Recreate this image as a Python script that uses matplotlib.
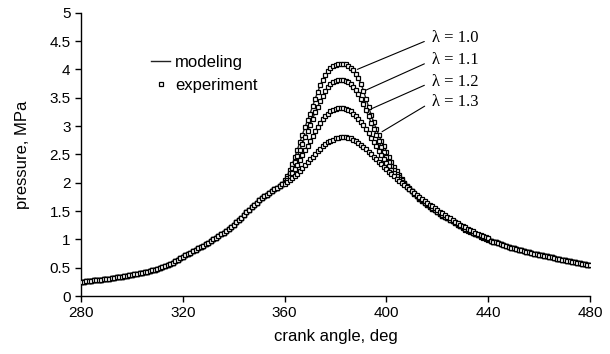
import matplotlib
matplotlib.use("Agg")
import matplotlib.pyplot as plt
from matplotlib.ticker import FuncFormatter

# crank angle grid, deg (experiment sampled every 1 deg)
angle_start = list(range(280, 360))   # same for every lambda
angle_peak = list(range(360, 441))    # curves split here
angle_tail = list(range(441, 481))    # same again

# pressure, MPa
p_start = [0.25, 0.255, 0.26, 0.265, 0.27, 0.275, 0.28, 0.285, 0.29, 0.295,
           0.30, 0.307, 0.315, 0.322, 0.33, 0.335, 0.34, 0.347, 0.355, 0.362,
           0.37, 0.38, 0.39, 0.40, 0.41, 0.42, 0.43, 0.442, 0.455, 0.467,
           0.48, 0.495, 0.51, 0.53, 0.55, 0.57, 0.59, 0.615, 0.64, 0.665,
           0.69, 0.715, 0.74, 0.765, 0.79, 0.815, 0.84, 0.865, 0.89, 0.915,
           0.94, 0.97, 1.00, 1.03, 1.06, 1.09, 1.12, 1.155, 1.19, 1.225,
           1.26, 1.30, 1.34, 1.385, 1.43, 1.475, 1.52, 1.565, 1.61, 1.65,
           1.69, 1.725, 1.76, 1.79, 1.82, 1.85, 1.88, 1.91, 1.94, 1.97]

p_lam10 = [2.04, 2.12, 2.22, 2.33, 2.45, 2.58, 2.72, 2.85, 2.98, 3.10,
           3.22, 3.35, 3.48, 3.60, 3.72, 3.82, 3.90, 3.97, 4.02, 4.06,
           4.08, 4.09, 4.10, 4.10, 4.09, 4.06, 4.03, 3.98, 3.92, 3.84,
           3.75, 3.62, 3.48, 3.34, 3.20, 3.07, 2.95, 2.84, 2.74, 2.64,
           2.55, 2.45, 2.36, 2.28, 2.20, 2.13, 2.06, 2.00, 1.95, 1.90,
           1.85, 1.80, 1.76, 1.72, 1.68, 1.64, 1.61, 1.57, 1.54, 1.51,
           1.48, 1.45, 1.42, 1.39, 1.37, 1.34, 1.32, 1.29, 1.26, 1.23,
           1.20, 1.17, 1.15, 1.13, 1.11, 1.09, 1.07, 1.05, 1.03, 1.01,
           0.99]
p_lam11 = [2.02, 2.09, 2.17, 2.26, 2.36, 2.47, 2.58, 2.69, 2.80, 2.91,
           3.02, 3.13, 3.24, 3.34, 3.44, 3.53, 3.62, 3.69, 3.74, 3.78,
           3.80, 3.81, 3.82, 3.82, 3.80, 3.78, 3.74, 3.69, 3.63, 3.56,
           3.47, 3.38, 3.28, 3.17, 3.06, 2.95, 2.84, 2.73, 2.63, 2.54,
           2.45, 2.37, 2.29, 2.22, 2.16, 2.10, 2.04, 1.99, 1.94, 1.89,
           1.85, 1.80, 1.76, 1.72, 1.68, 1.64, 1.61, 1.57, 1.54, 1.51,
           1.48, 1.45, 1.42, 1.39, 1.37, 1.34, 1.32, 1.29, 1.26, 1.23,
           1.21, 1.18, 1.16, 1.14, 1.12, 1.10, 1.08, 1.06, 1.04, 1.02,
           1.00]
p_lam12 = [2.00, 2.05, 2.10, 2.17, 2.24, 2.32, 2.40, 2.48, 2.57, 2.65,
           2.74, 2.82, 2.91, 2.99, 3.06, 3.12, 3.18, 3.22, 3.26, 3.28,
           3.30, 3.31, 3.31, 3.31, 3.30, 3.28, 3.26, 3.22, 3.18, 3.13,
           3.07, 3.01, 2.94, 2.87, 2.79, 2.72, 2.64, 2.56, 2.49, 2.42,
           2.35, 2.29, 2.23, 2.17, 2.12, 2.07, 2.02, 1.97, 1.93, 1.89,
           1.85, 1.81, 1.77, 1.73, 1.69, 1.65, 1.62, 1.58, 1.55, 1.52,
           1.49, 1.46, 1.43, 1.40, 1.38, 1.35, 1.33, 1.30, 1.27, 1.24,
           1.22, 1.19, 1.17, 1.14, 1.12, 1.10, 1.08, 1.06, 1.04, 1.02,
           1.00]
p_lam13 = [1.98, 2.01, 2.04, 2.08, 2.12, 2.16, 2.21, 2.26, 2.31, 2.36,
           2.41, 2.46, 2.51, 2.56, 2.60, 2.64, 2.68, 2.71, 2.74, 2.76,
           2.78, 2.79, 2.80, 2.80, 2.80, 2.79, 2.78, 2.76, 2.73, 2.70,
           2.67, 2.63, 2.59, 2.55, 2.51, 2.46, 2.42, 2.37, 2.33, 2.28,
           2.24, 2.19, 2.15, 2.11, 2.07, 2.03, 1.99, 1.96, 1.93, 1.89,
           1.86, 1.82, 1.79, 1.75, 1.72, 1.68, 1.65, 1.61, 1.58, 1.55,
           1.52, 1.49, 1.46, 1.43, 1.40, 1.37, 1.34, 1.31, 1.29, 1.26,
           1.24, 1.21, 1.19, 1.16, 1.14, 1.12, 1.10, 1.08, 1.06, 1.04,
           1.02]

p_tail = [0.975, 0.96, 0.945, 0.93, 0.915, 0.90, 0.885, 0.87, 0.855, 0.84,
          0.83, 0.82, 0.805, 0.79, 0.78, 0.77, 0.76, 0.75, 0.74, 0.73,
          0.72, 0.71, 0.70, 0.69, 0.68, 0.67, 0.66, 0.65, 0.64, 0.63,
          0.62, 0.61, 0.605, 0.60, 0.59, 0.58, 0.57, 0.56, 0.555, 0.55]

lam_labels = ["\u03bb = 1.0", "\u03bb = 1.1", "\u03bb = 1.2", "\u03bb = 1.3"]
lam_curves = [p_lam10, p_lam11, p_lam12, p_lam13]
# where each leader line touches its curve (deg, MPa) and where the label sits
lam_point = [(388.6, 4.00), (391.8, 3.63), (394.4, 3.31), (398.3, 2.90)]
lam_text = [(418.0, 4.55), (418.0, 4.16), (418.0, 3.78), (418.0, 3.43)]

plt.rcParams["font.family"] = ["Liberation Sans", "DejaVu Sans"]

fig = plt.figure(figsize=(6.1, 3.54), dpi=100)
ax = fig.add_axes([81 / 610, 58 / 354, 509 / 610, 283.3 / 354])

angles = angle_start + angle_peak + angle_tail
for i, curve in enumerate(lam_curves):
    p = p_start + curve + p_tail
    ax.plot(angles, p, color="#222222", lw=1.0, zorder=2,
            label="modeling" if i == 0 else None)
    ax.plot(angles, p, ls="none", marker="s", ms=2.6, mew=0.9,
            mec="black", mfc="white", zorder=3,
            label="experiment" if i == 0 else None)

for lab, xy, xt in zip(lam_labels, lam_point, lam_text):
    ax.annotate(lab, xy=xy, xytext=xt, ha="left", va="center",
                fontsize=12, family=["Liberation Serif", "DejaVu Serif"],
                arrowprops=dict(arrowstyle="-", color="black", lw=0.8,
                                relpos=(0, 0.5), shrinkA=4, shrinkB=0))

ax.set_xlim(280, 480)
ax.set_ylim(0, 5)
ax.set_xticks([280, 320, 360, 400, 440, 480])
ax.set_yticks([0, 0.5, 1, 1.5, 2, 2.5, 3, 3.5, 4, 4.5, 5])
ax.yaxis.set_major_formatter(FuncFormatter(lambda v, pos: f"{v:g}"))
ax.tick_params(direction="out", length=4, width=1, labelsize=11, colors="black")
ax.spines["top"].set_visible(False)
ax.spines["right"].set_visible(False)
ax.spines["left"].set_linewidth(1)
ax.spines["bottom"].set_linewidth(1)

ax.set_xlabel("crank angle, deg", fontsize=12, labelpad=6)
ax.set_ylabel("pressure, MPa", fontsize=12, labelpad=14)

ax.legend(loc="upper left", bbox_to_anchor=(0.1375, 0.85), frameon=False,
          fontsize=12, handlelength=1.15, handletextpad=0.3,
          labelspacing=0.45, borderpad=0, borderaxespad=0, markerscale=1.0)

fig.savefig("out.png", dpi=100)
